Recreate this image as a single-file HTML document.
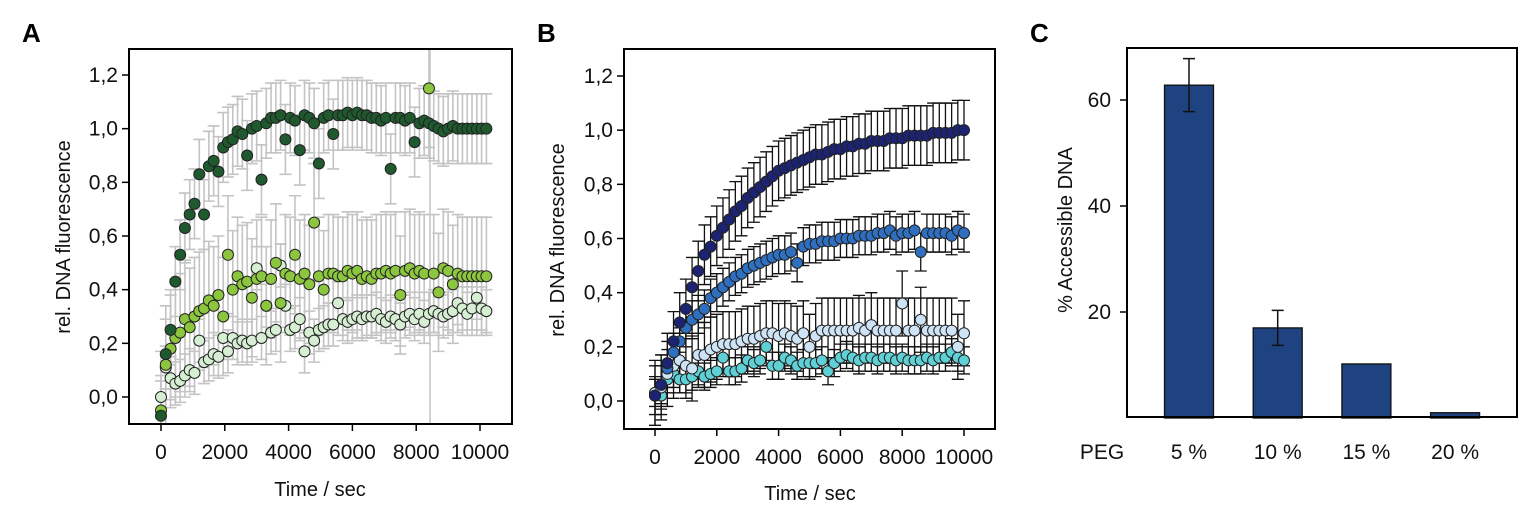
<!DOCTYPE html>
<html><head><meta charset="utf-8"><style>
html,body{margin:0;padding:0;background:#fff;}
svg{display:block;font-family:"Liberation Sans",Arial,sans-serif;}
</style></head><body>
<svg id="fig" width="1535" height="516" viewBox="0 0 1535 516" xmlns="http://www.w3.org/2000/svg">
<defs>
<clipPath id="clipA"><rect x="129" y="49" width="383" height="375"/></clipPath>
<clipPath id="clipB"><rect x="624" y="49" width="371" height="380"/></clipPath>
</defs>
<text x="22" y="42" font-size="26" font-weight="bold">A</text>
<text x="537" y="42" font-size="26" font-weight="bold">B</text>
<text x="1030" y="42" font-size="26" font-weight="bold">C</text>
<g id="pa"></g>
<g id="pb"></g>
<g id="pc"></g>
</svg>
<script>
// ---------- Panel A data (t = 0,150,...,10200 s) ----------
const aTimeStep = 150;
const aDark = [-0.07,0.16,0.25,0.43,0.53,0.63,0.68,0.72,0.83,0.68,0.86,0.88,0.84,0.93,0.95,0.96,0.99,0.98,0.90,1.00,1.01,0.81,1.02,1.04,1.04,1.05,0.96,1.04,1.03,0.92,1.05,1.04,1.02,0.87,1.04,1.05,0.98,1.05,1.05,1.06,1.05,1.06,1.05,1.05,1.04,1.04,1.03,1.04,0.85,1.04,1.04,1.03,1.04,0.95,1.02,1.03,1.02,1.01,1.00,0.99,1.00,1.01,1.00,1.00,1.00,1.00,1.00,1.00,1.00];
const aMid = [-0.05,0.12,0.18,0.22,0.24,0.29,0.26,0.30,0.32,0.33,0.36,0.34,0.38,0.30,0.53,0.40,0.45,0.42,0.43,0.37,0.44,0.45,0.34,0.44,0.50,0.35,0.46,0.45,0.53,0.44,0.46,0.42,0.65,0.45,0.40,0.46,0.46,0.45,0.45,0.47,0.46,0.47,0.44,0.45,0.44,0.46,0.46,0.47,0.46,0.47,0.38,0.47,0.48,0.46,0.47,0.46,1.15,0.46,0.39,0.48,0.47,0.42,0.46,0.45,0.45,0.45,0.45,0.45,0.45];
const aPale = [0.00,0.11,0.07,0.05,0.06,0.08,0.10,0.09,0.21,0.13,0.14,0.16,0.15,0.22,0.17,0.22,0.20,0.21,0.20,0.21,0.48,0.22,0.34,0.24,0.25,0.49,0.34,0.25,0.26,0.29,0.17,0.24,0.21,0.25,0.26,0.27,0.27,0.35,0.29,0.28,0.29,0.30,0.29,0.30,0.30,0.31,0.29,0.28,0.30,0.29,0.27,0.30,0.31,0.29,0.31,0.28,0.31,0.32,0.31,0.30,0.31,0.32,0.35,0.33,0.31,0.33,0.37,0.33,0.32];
const aErr = [0.13,0.22,0.08];
const aColors = ["#1f5a2e","#8cc63f","#d6efd3"];
const aYTicks = ["0,0","0,2","0,4","0,6","0,8","1,0","1,2"];
const xTickLabels = ["0","2000","4000","6000","8000","10000"];
// ---------- Panel B data (t = 0,200,...,10000 s) ----------
const bTimeStep = 200;
const bNavy = [0.02,0.06,0.14,0.22,0.29,0.34,0.42,0.48,0.54,0.57,0.61,0.64,0.67,0.70,0.72,0.75,0.77,0.79,0.81,0.83,0.85,0.86,0.87,0.88,0.89,0.90,0.91,0.91,0.92,0.93,0.93,0.94,0.94,0.95,0.95,0.96,0.96,0.96,0.97,0.97,0.97,0.98,0.98,0.98,0.98,0.99,0.99,0.99,0.99,1.00,1.00];
const bBlue = [0.02,0.06,0.12,0.18,0.22,0.27,0.30,0.32,0.34,0.38,0.40,0.42,0.44,0.46,0.47,0.49,0.50,0.51,0.52,0.53,0.54,0.54,0.55,0.51,0.57,0.58,0.58,0.59,0.59,0.59,0.60,0.60,0.60,0.61,0.61,0.61,0.62,0.62,0.63,0.61,0.62,0.62,0.63,0.55,0.62,0.62,0.62,0.62,0.61,0.63,0.62];
const bLight = [0.03,0.05,0.10,0.13,0.15,0.13,0.12,0.17,0.17,0.19,0.20,0.21,0.21,0.21,0.22,0.23,0.23,0.24,0.25,0.25,0.24,0.25,0.24,0.23,0.25,0.20,0.24,0.26,0.26,0.26,0.26,0.26,0.26,0.27,0.26,0.28,0.26,0.26,0.26,0.26,0.36,0.26,0.26,0.30,0.26,0.26,0.26,0.26,0.26,0.20,0.25];
const bCyan = [0.03,0.02,0.08,0.10,0.08,0.08,0.09,0.11,0.09,0.10,0.11,0.16,0.11,0.11,0.12,0.15,0.14,0.15,0.20,0.13,0.13,0.16,0.15,0.13,0.14,0.14,0.14,0.15,0.11,0.14,0.16,0.17,0.16,0.15,0.16,0.16,0.15,0.16,0.16,0.15,0.16,0.15,0.15,0.15,0.16,0.15,0.16,0.16,0.18,0.16,0.15];
const bErr = [0.11,0.07,0.12,0.05];
const bColors = ["#1c2372","#2f6fc0","#cfe3f7","#5fd0d6"];
// ---------- Panel C data ----------
const cCats = ["5 %","10 %","15 %","20 %"];
const cVals = [62.8,17.0,10.2,1.0];
const cErrs = [5.0,3.3,0,0];
const cYTicks = [20,40,60];

const NS="http://www.w3.org/2000/svg";
function mk(parent,tag,attrs){const e=document.createElementNS(NS,tag);for(const k in attrs)e.setAttribute(k,attrs[k]);parent.appendChild(e);return e;}
const FS=21, FT=20;

function scatterPanel(g,cfg){
  const sx=t=>cfg.x0+(cfg.x1-cfg.x0)*t/10000;
  const sy=v=>cfg.y0+(cfg.y12-cfg.y0)*v/1.2;
  cfg.yTicks.forEach((lab,i)=>{const y=sy(i*0.2);
    const l=mk(g,'line',{x1:cfg.bx0-7,x2:cfg.bx0,y1:y,y2:y,stroke:'#000','stroke-width':1.5});
    
    
    const t=mk(g,'text',{x:cfg.bx0-11,y:y+7,'font-size':FS,'text-anchor':'end',fill:'#111'});t.textContent=lab;
    
    
  });
  xTickLabels.forEach((lab,i)=>{const x=sx(i*2000);
    const l=mk(g,'line',{x1:x,x2:x,y1:cfg.by1,y2:cfg.by1+7,stroke:'#000','stroke-width':1.5});
    
    
    const t=mk(g,'text',{x:x,y:cfg.xLabY,'font-size':FS,'text-anchor':'middle',fill:'#111'});t.textContent=lab;
    
    
  });
  const yt=mk(g,'text',{x:0,y:0,'font-size':FT,'text-anchor':'middle',fill:'#111',transform:`translate(${cfg.ytX},${cfg.ytY}) rotate(-90)`});yt.textContent='rel. DNA fluorescence';
  
  
  const xt=mk(g,'text',{x:cfg.xtX,y:cfg.xtY,'font-size':FT,'text-anchor':'middle',fill:'#111'});xt.textContent='Time / sec';
  
  
  const inner=mk(g,'g',{'clip-path':`url(#${cfg.clip})`});
  
  
  if(cfg.extra) cfg.extra(inner);
  cfg.series.forEach((s,si)=>{s.forEach((v,i)=>{
    const x=sx(i*cfg.step);const e=cfg.err[si];const yu=sy(v+e), yd=sy(v-e);
    const eb=mk(inner,'path',{d:`M${x},${yd}V${yu}M${x-cfg.cap},${yu}H${x+cfg.cap}M${x-cfg.cap},${yd}H${x+cfg.cap}`,stroke:cfg.errColor,'stroke-width':cfg.ew,fill:'none'});
    
    
  });});
  cfg.series.forEach((s,si)=>{s.forEach((v,i)=>{
    const c=mk(inner,'circle',{cx:sx(i*cfg.step),cy:sy(v),r:cfg.r,fill:cfg.colors[si],stroke:'#222','stroke-width':1});
    
    
  });});
  const box=mk(g,'rect',{x:cfg.bx0,y:cfg.by0,width:cfg.bx1-cfg.bx0,height:cfg.by1-cfg.by0,fill:'none',stroke:'#000','stroke-width':2});
  
  
}

const ga=document.getElementById('pa');
scatterPanel(ga,{x0:161,x1:480,y0:397,y12:75,bx0:129,bx1:512,by0:49,by1:424,xLabY:459,clip:'clipA',
  yTicks:aYTicks,ytX:70,ytY:237,xtX:320,xtY:496,series:[aPale,aMid,aDark],err:[aErr[2],aErr[1],aErr[0]],
  colors:[aColors[2],aColors[1],aColors[0]],step:aTimeStep,cap:6,r:5.5,errColor:'#c4c4c4',ew:1.6,
  extra:(p)=>{const vl=mk(p,'line',{x1:430,x2:430,y1:49,y2:424,stroke:'#c4c4c4','stroke-width':1.5});
    
    }});

const gb=document.getElementById('pb');
scatterPanel(gb,{x0:655,x1:964,y0:401,y12:76,bx0:624,bx1:995,by0:49,by1:429,xLabY:464,clip:'clipB',
  yTicks:aYTicks,ytX:564,ytY:240,xtX:810,xtY:500,series:[bCyan,bLight,bBlue,bNavy],err:[bErr[3],bErr[2],bErr[1],bErr[0]],
  colors:[bColors[3],bColors[2],bColors[1],bColors[0]],step:bTimeStep,cap:6,r:5.5,errColor:'#111',ew:1.3});

// Panel C
const gc=document.getElementById('pc');
const cy=v=>418-(418-312)*v/20;
const cx0=1189, cdx=88.7, bw=49;
cYTicks.forEach(v=>{const y=cy(v);
  const l=mk(gc,'line',{x1:1120,x2:1127,y1:y,y2:y,stroke:'#000','stroke-width':1.5});
  
  
  const t=mk(gc,'text',{x:1111,y:y+7,'font-size':FS,'text-anchor':'end',fill:'#111'});t.textContent=v;
  
  
});
const cyt=mk(gc,'text',{x:0,y:0,'font-size':FT,'text-anchor':'middle',fill:'#111',transform:'translate(1072,230) rotate(-90)'});cyt.textContent='% Accessible DNA';


const peg=mk(gc,'text',{x:1102,y:459,'font-size':FS,'text-anchor':'middle',fill:'#111'});peg.textContent='PEG';


cCats.forEach((c,i)=>{const x=cx0+i*cdx;const v=cVals[i];
  const b=mk(gc,'rect',{x:x-bw/2,y:cy(v),width:bw,height:418-cy(v),fill:'#1f4380',stroke:'#111','stroke-width':1.3});
  
  
  if(cErrs[i]>0){const e=cErrs[i];
    const eb=mk(gc,'path',{d:`M${x},${cy(v-e)}V${cy(v+e)}M${x-6},${cy(v+e)}H${x+6}M${x-6},${cy(v-e)}H${x+6}`,stroke:'#111','stroke-width':1.5,fill:'none'});
    
    
  }
  const t=mk(gc,'text',{x:x,y:459,'font-size':FS,'text-anchor':'middle',fill:'#111'});t.textContent=c;
  
  
});
const cb=mk(gc,'rect',{x:1127,y:48,width:390,height:369,fill:'none',stroke:'#000','stroke-width':2});


</script>
</body></html>
